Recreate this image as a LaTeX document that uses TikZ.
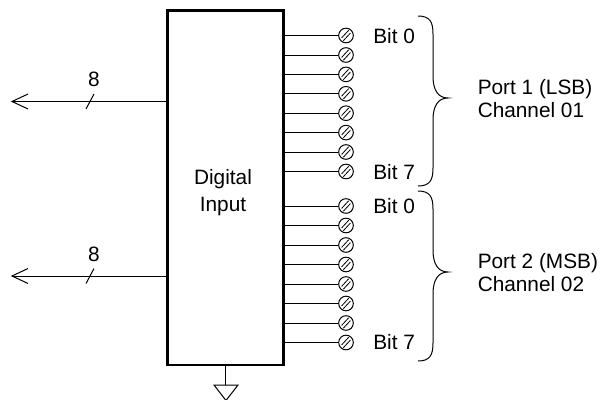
\documentclass[tikz,border=0pt]{standalone}
\usepackage{fontspec}
\setmainfont{Liberation Sans}
\usetikzlibrary{calc}
\tikzset{
  lbl/.style={font=\fontsize{15.6pt}{17pt}\selectfont, inner sep=0pt, text=black},
  lbl2/.style={lbl, align=left, anchor=west},
  thin1/.style={draw=black, line width=0.75pt},
  term/.style={circle, draw=black, line width=0.75pt, fill=white, minimum size=11pt, inner sep=0pt},
  blockbox/.style={draw=black, line width=2pt, fill=none, minimum width=87pt, minimum height=266pt, inner sep=0pt},
}
\newcommand{\hatch}[1]{%
  \draw[black, line width=0.6pt] ($(#1)+(-3.3pt,-1.8pt)$) -- ($(#1)+(2.0pt,3.9pt)$);
  \draw[black, line width=0.6pt] ($(#1)+(-2.0pt,-3.9pt)$) -- ($(#1)+(3.3pt,1.8pt)$);
}
\begin{document}
\begin{tikzpicture}[x=0.75pt,y=-0.75pt]
\useasboundingbox (0,0) rectangle (600,400);
\node[blockbox] (box) at (225.75,187.5) {};
\node[lbl, align=center] (dig) at (223,192.5) {Digital\\[3pt]Input};
% terminals
\foreach \i/\y in {0/35.5,1/55,2/74.4,3/93.8,4/113.2,5/132.6,6/152,7/171.5,
                   8/206,9/225.5,10/245,11/264.5,12/284,13/303.5,14/323,15/342.5}{
  \node[term] (t\i) at (346,\y) {};
  \draw[thin1] (t\i) -- (t\i -| box.east);
  \hatch{t\i}
}
\node[lbl2] (b0a) at (373,36) {Bit 0};
\node[lbl2] (b7a) at (373,172.5) {Bit 7};
\node[lbl2] (b0b) at (373,206) {Bit 0};
\node[lbl2] (b7b) at (373,342.5) {Bit 7};
% braces
\coordinate (b1t) at (418,16);
\coordinate (b1m) at (448,98);
\coordinate (b1b) at (418,186);
\draw[thin1] (b1t) .. controls ($(b1t)+(12,0)$) and ($(b1t)+(15,6)$) .. ($(b1t)+(15,18)$)
  -- ($(b1m)+(-15,-22)$) .. controls ($(b1m)+(-15,-8)$) and ($(b1m)+(-10,0)$) .. (b1m)
  .. controls ($(b1m)+(-10,0)$) and ($(b1m)+(-15,8)$) .. ($(b1m)+(-15,22)$)
  -- ($(b1b)+(15,-18)$) .. controls ($(b1b)+(15,-6)$) and ($(b1b)+(12,0)$) .. (b1b);
\coordinate (b2t) at (418,191);
\coordinate (b2m) at (448,272);
\coordinate (b2b) at (418,361);
\draw[thin1] (b2t) .. controls ($(b2t)+(12,0)$) and ($(b2t)+(15,6)$) .. ($(b2t)+(15,18)$)
  -- ($(b2m)+(-15,-22)$) .. controls ($(b2m)+(-15,-8)$) and ($(b2m)+(-10,0)$) .. (b2m)
  .. controls ($(b2m)+(-10,0)$) and ($(b2m)+(-15,8)$) .. ($(b2m)+(-15,22)$)
  -- ($(b2b)+(15,-18)$) .. controls ($(b2b)+(15,-6)$) and ($(b2b)+(12,0)$) .. (b2b);
\node[lbl2] (p1) at (477.5,98.5) {Port 1 (LSB)\\Channel 01};
\node[lbl2] (p2) at (477.5,272.5) {Port 2 (MSB)\\Channel 02};
% buses
\foreach \n/\y in {a/101.5,b/276}{
  \coordinate (e\n) at (12,\y);
  \coordinate (s\n) at (box.west |- e\n);
  \draw[thin1] (s\n) -- (e\n);
  \draw[thin1] ($(e\n)+(16,-7.5)$) -- (e\n) -- ($(e\n)+(16,7.5)$);
  \draw[thin1] ($(e\n)+(74,7.5)$) -- ($(e\n)+(82,-7.5)$);
  \node[lbl] (n\n) at ($(e\n)+(82,-22)$) {8};
}
% ground
\coordinate (g0) at (225.5,385);
\draw[thin1] (box.south -| g0) -- (g0);
\draw[thin1] (214,385) -- (238,385) -- (226,400.5) -- cycle;
\end{tikzpicture}
\end{document}
